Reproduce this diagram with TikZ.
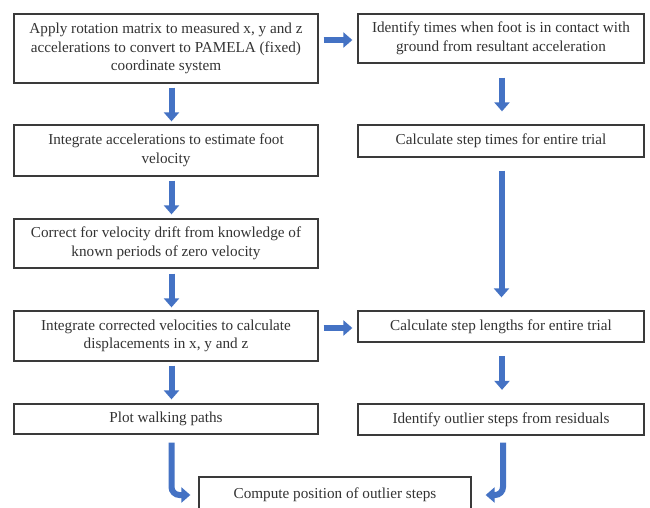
\documentclass[tikz,border=0pt]{standalone}
\usepackage{fontspec}
\setmainfont{Liberation Serif}
\usetikzlibrary{arrows.meta,calc}
\definecolor{arrblue}{HTML}{4472C4}
\definecolor{boxline}{HTML}{3A3A3A}
\definecolor{txt}{HTML}{333333}
\begin{document}
\begin{tikzpicture}[x=1pt,y=-1pt,
  box/.style={draw=boxline,line width=1.3pt,fill=white,text=txt,align=center,
    font=\fontsize{15.2}{18.5}\selectfont,inner sep=0pt,minimum width=304pt},
  rbox/.style={box,minimum width=286pt},
  flow/.style={draw=arrblue,line width=6pt,-{Triangle[width=15pt,length=9pt]}}]
\clip (0,0) rectangle (650,507);
\fill[white] (0,0) rectangle (650,507);
\node[box,minimum height=69pt] (L1) at (166,48.5) {Apply rotation matrix to measured x, y and z\\accelerations to convert to PAMELA (fixed)\\coordinate system};
\node[rbox,minimum height=49pt] (R1) at (501,38.5) {Identify times when foot is in contact with\\ground from resultant acceleration};
\node[box,minimum height=51pt] (L2) at (166,150.5) {Integrate accelerations to estimate foot\\velocity};
\node[rbox,minimum height=32pt] (R2) at (501,141) {Calculate step times for entire trial};
\node[box,minimum height=49pt] (L3) at (166,243.5) {Correct for velocity drift from knowledge of\\known periods of zero velocity};
\node[box,minimum height=50pt] (L4) at (166,336) {Integrate corrected velocities to calculate\\displacements in x, y and z};
\node[rbox,minimum height=31pt] (R4) at (501,326.5) {Calculate step lengths for entire trial};
\node[box,minimum height=30pt] (L5) at (166,419) {Plot walking paths};
\node[rbox,minimum height=31pt] (R5) at (501,419.5) {Identify outlier steps from residuals};
\node[box,minimum width=272pt,minimum height=36pt] (B) at (335,495) {Compute position of outlier steps};
% vertical arrows
\draw[flow] ($(L1.south)+(5.5,4)$) -- ($(L2.north)+(5.5,-3)$);
\draw[flow] ($(L2.south)+(5.5,4)$) -- ($(L3.north)+(5.5,-4)$);
\draw[flow] ($(L3.south)+(5.5,5)$) -- ($(L4.north)+(5.5,-3)$);
\draw[flow] ($(L4.south)+(5.5,4)$) -- ($(L5.north)+(5.5,-4)$);
\draw[flow] ($(R1.south)+(1,14)$) -- ($(R2.north)+(1,-13)$);
\draw[flow] ($(R2.south)+(0.5,13)$) -- ($(R4.north)+(0.5,-13)$);
\draw[flow] ($(R4.south)+(1,13.5)$) -- ($(R5.north)+(1,-13.5)$);
% horizontal arrows
\draw[flow] ($(L1.east|-R1.west)+(5,1.5)$) -- ($(R1.west)+(-5,1.5)$);
\draw[flow] ($(L4.east|-R4.west)+(5,1.5)$) -- ($(R4.west)+(-5,1.5)$);
% bent arrows
\draw[flow,rounded corners=8pt] ($(L5.south)+(5.5,8)$) |- ($(B.west)+(-8,0)$);
\draw[flow,rounded corners=8pt] ($(R5.south)+(2,7)$) |- ($(B.east)+(14,0)$);
\end{tikzpicture}
\end{document}
